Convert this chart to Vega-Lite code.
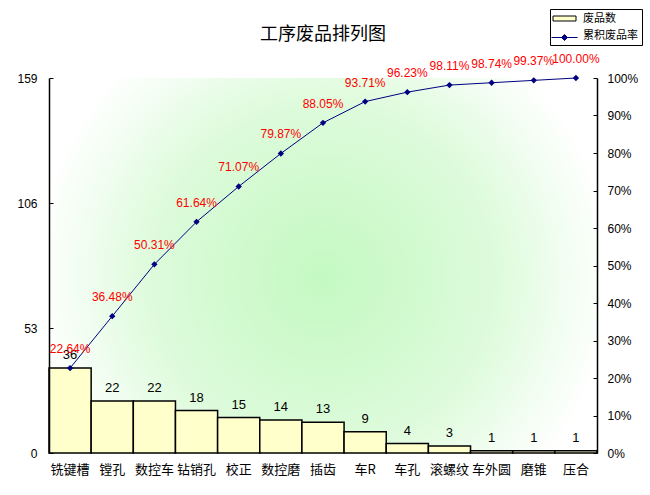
{
  "$schema": "https://vega.github.io/schema/vega-lite/v6.json",
  "autosize": {"type": "none"},
  "width": 548,
  "height": 375,
  "padding": {"left": 49, "top": 78, "right": 53, "bottom": 42},
  "background": "white",
  "title": {
    "text": "工序废品排列图",
    "font": "Noto Sans CJK SC",
    "fontSize": 18,
    "fontWeight": "normal",
    "color": "black",
    "anchor": "middle",
    "offset": -35
  },
  "data": {
    "values": [
      {"process": "铣键槽", "count": 36, "cum": 0.2264, "series": "废品数", "line": "累积废品率"},
      {"process": "镗孔", "count": 22, "cum": 0.3648, "series": "废品数", "line": "累积废品率"},
      {"process": "数控车", "count": 22, "cum": 0.5031, "series": "废品数", "line": "累积废品率"},
      {"process": "钻销孔", "count": 18, "cum": 0.6164, "series": "废品数", "line": "累积废品率"},
      {"process": "校正", "count": 15, "cum": 0.7107, "series": "废品数", "line": "累积废品率"},
      {"process": "数控磨", "count": 14, "cum": 0.7987, "series": "废品数", "line": "累积废品率"},
      {"process": "插齿", "count": 13, "cum": 0.8805, "series": "废品数", "line": "累积废品率"},
      {"process": "车R", "count": 9, "cum": 0.9371, "series": "废品数", "line": "累积废品率"},
      {"process": "车孔", "count": 4, "cum": 0.9623, "series": "废品数", "line": "累积废品率"},
      {"process": "滚螺纹", "count": 3, "cum": 0.9811, "series": "废品数", "line": "累积废品率"},
      {"process": "车外圆", "count": 1, "cum": 0.9874, "series": "废品数", "line": "累积废品率"},
      {"process": "磨锥", "count": 1, "cum": 0.9937, "series": "废品数", "line": "累积废品率"},
      {"process": "压合", "count": 1, "cum": 1.0, "series": "废品数", "line": "累积废品率"}
    ]
  },
  "encoding": {
    "x": {
      "field": "process",
      "type": "nominal",
      "sort": null,
      "scale": {"paddingInner": 0, "paddingOuter": 0},
      "axis": {
        "title": null,
        "labelAngle": 0,
        "ticks": false,
        "domain": false,
        "labelPadding": 10,
        "labelFontSize": 13,
        "labelColor": "black",
        "labelFont": "Noto Sans CJK SC"
      }
    }
  },
  "layer": [
    {
      "data": {"values": [{}]},
      "mark": {
        "type": "rect",
        "fill": {
          "gradient": "radial",
          "x1": 0.5, "y1": 0.52, "r1": 0,
          "x2": 0.5, "y2": 0.52, "r2": 0.62,
          "stops": [
            {"offset": 0, "color": "#c4f9c2"},
            {"offset": 0.5, "color": "#ddfbdb"},
            {"offset": 0.85, "color": "#ffffff"}
          ]
        }
      },
      "encoding": {"x": null}
    },
    {
      "encoding": {
        "y": {
          "field": "count",
          "type": "quantitative",
          "scale": {"domain": [0, 159], "nice": false},
          "axis": {
            "title": null,
            "values": [0, 53, 106, 159],
            "grid": false,
            "zindex": 1,
            "domainColor": "black",
            "domainWidth": 1.5,
            "tickColor": "black",
            "tickSize": -4,
            "labelPadding": 16,
            "labelFontSize": 12,
            "labelColor": "black",
            "labelFont": "Liberation Sans"
          }
        }
      },
      "layer": [
        {
          "mark": {"type": "bar", "strokeWidth": 1.5},
          "encoding": {
            "fill": {
              "field": "series",
              "type": "nominal",
              "scale": {"domain": ["废品数", "累积废品率"], "range": ["#ffffcc", "rgba(255,255,255,0)"]},
              "legend": {
                "title": null,
                "orient": "none",
                "legendX": 501,
                "legendY": -69,
                "strokeColor": "black",
                "fillColor": "white",
                "padding": 4,
                "symbolOffset": 5,
                "symbolType": "M-2.3,-0.5H2.3V0.5H-2.3Z",
                "symbolStrokeWidth": 1,
                "labelFont": "Noto Sans CJK SC",
                "labelFontSize": 11,
                "labelColor": "black",
                "symbolSize": 100,
                "rowPadding": 5,
                "labelOffset": 13
              }
            },
            "stroke": {
              "field": "series",
              "type": "nominal",
              "scale": {"domain": ["废品数", "累积废品率"], "range": ["black", "rgba(255,255,255,0)"]},
              "legend": {
                "title": null,
                "orient": "none",
                "legendX": 501,
                "legendY": -69,
                "strokeColor": "black",
                "fillColor": "white",
                "padding": 4,
                "symbolOffset": 5,
                "symbolType": "M-2.3,-0.5H2.3V0.5H-2.3Z",
                "symbolStrokeWidth": 1,
                "labelFont": "Noto Sans CJK SC",
                "labelFontSize": 11,
                "labelColor": "black",
                "symbolSize": 100,
                "rowPadding": 5,
                "labelOffset": 13
              }
            }
          }
        },
        {
          "mark": {
            "type": "text",
            "baseline": "middle",
            "dy": -13,
            "fontSize": 13,
            "font": "Liberation Sans",
            "color": "black"
          },
          "encoding": {
            "text": {"field": "count", "type": "quantitative"}
          }
        }
      ]
    },
    {
      "encoding": {
        "y": {
          "field": "cum",
          "type": "quantitative",
          "scale": {"domain": [0, 1], "nice": false},
          "axis": {
            "title": null,
            "orient": "right",
            "format": ".0%",
            "values": [0, 0.1, 0.2, 0.3, 0.4, 0.5, 0.6, 0.7, 0.8, 0.9, 1],
            "labelOverlap": false,
            "grid": false,
            "zindex": 1,
            "domainColor": "black",
            "domainWidth": 1.5,
            "tickColor": "black",
            "tickSize": -4,
            "labelPadding": 14,
            "labelFontSize": 12,
            "labelColor": "black",
            "labelFont": "Liberation Sans"
          }
        }
      },
      "layer": [
        {
          "mark": {
            "type": "line",
            "strokeWidth": 1,
            "point": {"shape": "diamond", "size": 40, "filled": true, "color": "#000080"}
          },
          "encoding": {
            "color": {
              "field": "line",
              "type": "nominal",
              "scale": {"domain": ["累积废品率"], "range": ["#000080"]},
              "legend": {
                "title": null,
                "orient": "none",
                "legendX": 510,
                "legendY": -46,
                "padding": 0,
                "symbolType": "M-2.6,0H2.6M0,-0.6L0.6,0L0,0.6L-0.6,0Z",
                "symbolSize": 100,
                "symbolStrokeWidth": 1,
                "symbolFillColor": "#000080",
                "labelExpr": "''",
                "labelFontSize": 11
              }
            }
          }
        },
        {
          "mark": {
            "type": "text",
            "baseline": "middle",
            "dy": -19,
            "fontSize": 12,
            "font": "Liberation Sans",
            "color": "red"
          },
          "encoding": {
            "text": {"field": "cum", "type": "quantitative", "format": ".2%"}
          }
        }
      ]
    }
  ],
  "resolve": {"scale": {"y": "independent"}},
  "config": {
    "view": {"stroke": null},
    "font": "Noto Sans CJK SC"
  }
}
